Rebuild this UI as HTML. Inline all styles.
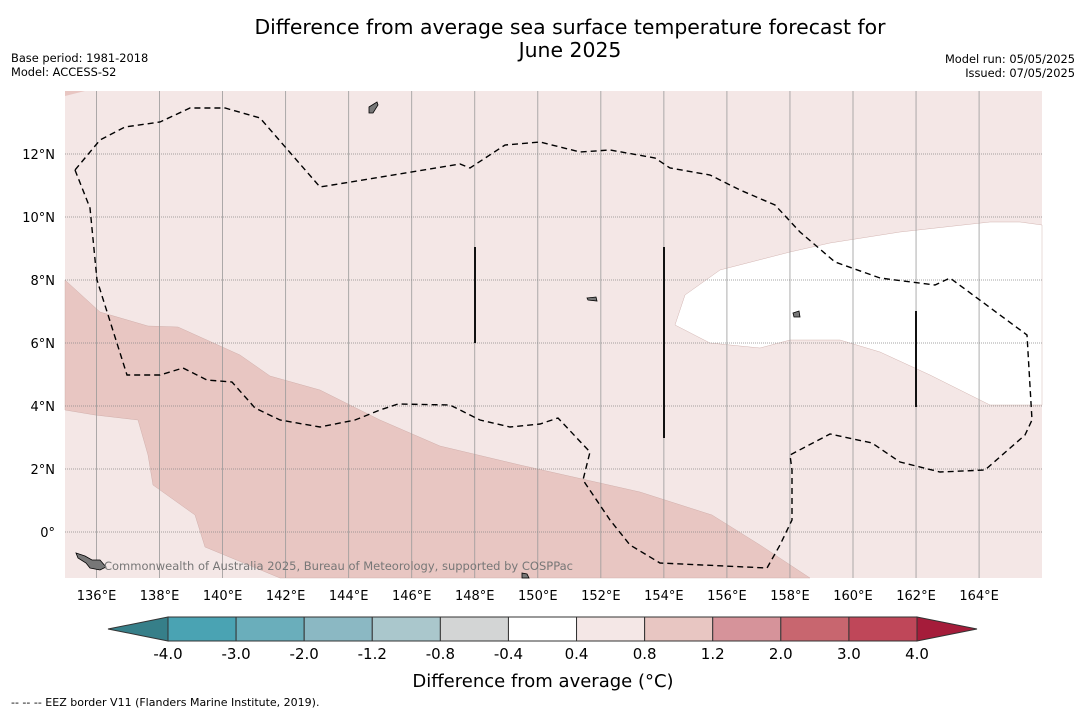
<!DOCTYPE html>
<html><head><meta charset="utf-8"><style>
body{margin:0;background:#fff;font-family:"DejaVu Sans","Liberation Sans",sans-serif}
svg{display:block}
</style></head><body>
<svg width="1085" height="713" viewBox="0 0 1085 713" xmlns="http://www.w3.org/2000/svg">
<text x="570" y="34" font-size="20.4" text-anchor="middle">Difference from average sea surface temperature forecast for</text>
<text x="570" y="57" font-size="20.4" text-anchor="middle">June 2025</text>
<text x="11" y="62" font-size="11.4">Base period: 1981-2018</text>
<text x="11" y="76" font-size="11.4">Model: ACCESS-S2</text>
<text x="1075" y="63" font-size="11.4" text-anchor="end">Model run: 05/05/2025</text>
<text x="1075" y="77" font-size="11.4" text-anchor="end">Issued: 07/05/2025</text>
<g id="map">
<rect x="65" y="91" width="977" height="487" fill="#f4e7e6"/>
<polygon fill="#e8c6c2" stroke="#c9a6a2" stroke-width="0.4" points="65,280 100,312 148,326 178,327 240,355 270,376 320,390 380,420 440,446 520,465 640,492 712,515 760,545 810,578 280,578 205,547 195,515 153,485 148,455 138,420 95,415 65,410"/>
<polygon fill="#e8c6c2" points="65,91 85,91 65,96"/>
<polygon fill="#ffffff" stroke="#c9a6a2" stroke-width="0.4" points="675,325 685,295 720,270 790,252 830,243 900,232 990,222 1020,222 1042,225 1042,405 990,405 930,375 880,352 840,340 790,340 760,348 710,343"/>
<g id="grid"></g>
<polyline fill="none" stroke="#000" stroke-width="1.4" stroke-dasharray="6,4" points="75,170 90,208 97,280 127,375 160,375 183,368 207,380 232,382 255,408 280,420 320,427 355,420 380,410 398,404 450,405 480,420 510,427 540,424 558,418 590,452 583,480 610,520 630,545 660,563 767,568 780,545 792,520 792,470 790,455 830,434 872,443 900,462 940,472 985,470 1025,435 1032,420 1027,335 950,278 935,285 880,278 835,262 800,232 775,205 740,190 710,175 670,168 655,158 610,150 580,152 540,142 505,145 470,168 460,164 320,187 260,118 225,108 190,108 160,122 125,127 100,140 75,170"/>
<line x1="475" y1="247" x2="475" y2="343" stroke="#111" stroke-width="2"/>
<line x1="664" y1="247" x2="664" y2="438" stroke="#111" stroke-width="2"/>
<line x1="916" y1="311" x2="916" y2="407" stroke="#111" stroke-width="2"/>
<polygon fill="#777" stroke="#000" stroke-width="0.8" points="369,107 377,102 378,105 373,113 369,113"/>
<polygon fill="#777" stroke="#000" stroke-width="0.8" points="793,313 799,311 800,317 794,317"/>
<polygon fill="#777" stroke="#000" stroke-width="0.8" points="76,553 85,556 92,560 100,560 106,567 100,570 90,568 86,563 78,558"/>
<polygon fill="#777" stroke="#000" stroke-width="0.8" points="522,573 527,574 529,578 522,578"/>
<polygon fill="#777" stroke="#000" stroke-width="0.8" points="587,298 596,297 597,301 588,300"/>
<text x="104" y="570" font-size="11.5" fill="#777" textLength="469" lengthAdjust="spacingAndGlyphs">Commonwealth of Australia 2025, Bureau of Meteorology, supported by COSPPac</text>
</g>
<g id="axes"></g>
<g id="cbar"></g>
<text x="543" y="687" font-size="18" text-anchor="middle">Difference from average (°C)</text>
<text x="11" y="706" font-size="11">--  --  -- EEZ border V11 (Flanders Marine Institute, 2019).</text>
</svg>
<script>
const lonTicks=[136,138,140,142,144,146,148,150,152,154,156,158,160,162,164];
const latTicks=[0,2,4,6,8,10,12];
const cbarLevels=["-4.0","-3.0","-2.0","-1.2","-0.8","-0.4","0.4","0.8","1.2","2.0","3.0","4.0"];
const cbarColors=["#4aa3b3","#6aaebb","#8bb8c3","#aac7cc","#d3d5d5","#ffffff","#f4e7e6","#e8c6c2","#d6939a","#c8666f","#bf4759"];
const NS="http://www.w3.org/2000/svg";
const X=lon=>65+(lon-135)*31.52;
const Y=lat=>91+(14-lat)*31.5;
function mk(t,a,p){const e=document.createElementNS(NS,t);for(const k in a)e.setAttribute(k,a[k]);p.appendChild(e);return e;}
const grid=document.getElementById('grid'),axes=document.getElementById('axes'),cb=document.getElementById('cbar');
lonTicks.forEach(l=>{
 const g=mk('line',{x1:X(l),x2:X(l),y1:91,y2:578,stroke:'#999','stroke-width':0.8},grid);
 
 
 const t=mk('text',{x:X(l),y:600,'font-size':13,'text-anchor':'middle'},axes);t.textContent=l+'°E';
 
 
});
latTicks.forEach(l=>{
 const g=mk('line',{x1:65,x2:1042,y1:Y(l),y2:Y(l),stroke:'#888','stroke-width':0.7,'stroke-dasharray':'1,1'},grid);
 
 
 const t=mk('text',{x:55,y:Y(l)+5,'font-size':13,'text-anchor':'end'},axes);t.textContent=l===0?'0°':l+'°N';
 
 
});
const x0=168,x1=917,w=(x1-x0)/cbarColors.length,y0=617,h=24;
const lt=mk('polygon',{points:`${x0},${y0} 108,${y0+h/2} ${x0},${y0+h}`,fill:'#367f89',stroke:'#333','stroke-width':1},cb);


const rt=mk('polygon',{points:`${x1},${y0} 977,${y0+h/2} ${x1},${y0+h}`,fill:'#a51c3a',stroke:'#333','stroke-width':1},cb);


cbarColors.forEach((c,i)=>{
 const r=mk('rect',{x:x0+i*w,y:y0,width:w,height:h,fill:c,stroke:'#333','stroke-width':1},cb);
 
 
});
cbarLevels.forEach((v,i)=>{
 const t=mk('text',{x:x0+i*w,y:659,'font-size':15,'text-anchor':'middle'},cb);t.textContent=v;
 
 
});
</script>
</body></html>
